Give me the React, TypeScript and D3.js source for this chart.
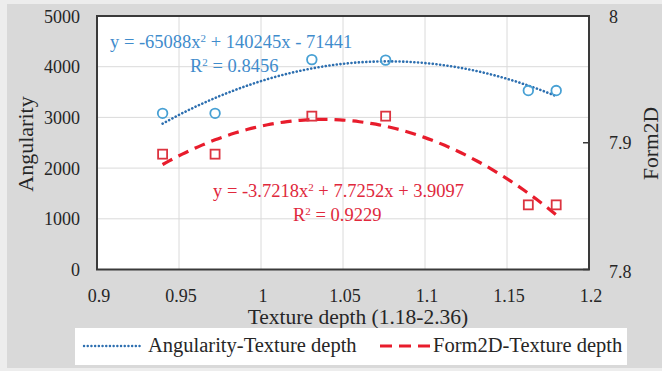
import React from "react";
import * as d3 from "d3";

// Texture depth (normalised) for each sample
const textureDepth = [0.94, 0.972, 1.031, 1.076, 1.163, 1.18];
// Angularity (left axis)
const angularity = [3080, 3080, 4140, 4130, 3530, 3530];
// Form2D (right axis)
const form2D = [7.891, 7.891, 7.921, 7.921, 7.851, 7.851];

// Polynomial trend coefficients [a, b, c] for y = a x^2 + b x + c
const angularityFit = [-65088, 140245, -71441];
const form2DFit = [-3.7218, 7.7252, 3.9097];

const xTicks = [0.9, 0.95, 1, 1.05, 1.1, 1.15, 1.2];
const leftTicks = [0, 1000, 2000, 3000, 4000, 5000];
const rightTicks = [7.8, 7.9, 8];

const W = 662;
const H = 371;
const plot = { left: 97, right: 589, top: 16, bottom: 269.5 };

const FONT = "'Liberation Serif', 'Times New Roman', serif";
const BLUE_TEXT = "#3f8ccc";
const BLUE_MARK = "#47a0d4";
const BLUE_LINE = "#2d6fb0";
const RED_TEXT = "#e0283c";
const RED_LINE = "#e81c2c";
const RED_MARK = "#dc3440";

export default function App() {
  const x = d3.scaleLinear().domain([0.9, 1.2]).range([plot.left, plot.right]);
  const yL = d3.scaleLinear().domain([0, 5000]).range([plot.bottom, plot.top]);
  const yR = d3.scaleLinear().domain([7.8, 8]).range([plot.bottom, plot.top]);

  const xMin = d3.min(textureDepth) as number;
  const xMax = d3.max(textureDepth) as number;
  const samples = d3.range(0, 61).map((i) => xMin + ((xMax - xMin) * i) / 60);
  const poly = (c: number[], v: number) => c[0] * v * v + c[1] * v + c[2];

  const lineL = d3
    .line<number>()
    .x((v) => x(v))
    .y((v) => yL(poly(angularityFit, v)))
    .curve(d3.curveMonotoneX);
  const lineR = d3
    .line<number>()
    .x((v) => x(v))
    .y((v) => yR(poly(form2DFit, v)))
    .curve(d3.curveMonotoneX);

  const sq = 9;

  return (
    <svg
      width={W}
      height={H}
      style={{ position: "absolute", left: 0, top: 0 }}
      fontFamily={FONT}
    >
      <rect x={0} y={0} width={W} height={H} fill="#ededed" />
      <rect x={7} y={4} width={W - 7} height={364} fill="#d9d9d9" />

      {/* plot area */}
      <rect
        x={plot.left}
        y={plot.top}
        width={plot.right - plot.left}
        height={plot.bottom - plot.top}
        fill="#ffffff"
      />

      {/* grid */}
      {xTicks.slice(1, -1).map((t) => (
        <line
          key={"gx" + t}
          x1={x(t)}
          x2={x(t)}
          y1={plot.top}
          y2={plot.bottom}
          stroke="#dadada"
          strokeWidth={1}
        />
      ))}
      {leftTicks.slice(1, -1).map((t) => (
        <line
          key={"gy" + t}
          x1={plot.left}
          x2={plot.right}
          y1={yL(t)}
          y2={yL(t)}
          stroke="#dadada"
          strokeWidth={1}
        />
      ))}

      {/* right axis inner ticks */}
      {rightTicks.map((t) => (
        <line
          key={"rt" + t}
          x1={plot.right - 6}
          x2={plot.right}
          y1={yR(t)}
          y2={yR(t)}
          stroke="#3a3a3a"
          strokeWidth={1.5}
        />
      ))}

      {/* trend lines */}
      <path
        d={lineL(samples) || ""}
        fill="none"
        stroke={BLUE_LINE}
        strokeWidth={2.6}
        strokeDasharray="0.1 3.6"
        strokeLinecap="round"
      />
      <path
        d={lineR(samples) || ""}
        fill="none"
        stroke={RED_LINE}
        strokeWidth={3.2}
        strokeDasharray="11 7"
      />

      {/* markers */}
      {textureDepth.map((v, i) => (
        <circle
          key={"c" + i}
          cx={x(v)}
          cy={yL(angularity[i])}
          r={4.8}
          fill="none"
          stroke={BLUE_MARK}
          strokeWidth={1.8}
        />
      ))}
      {textureDepth.map((v, i) => (
        <rect
          key={"s" + i}
          x={x(v) - sq / 2}
          y={yR(form2D[i]) - sq / 2}
          width={sq}
          height={sq}
          fill="none"
          stroke={RED_MARK}
          strokeWidth={1.8}
        />
      ))}

      {/* plot border */}
      <rect
        x={plot.left}
        y={plot.top}
        width={plot.right - plot.left}
        height={plot.bottom - plot.top}
        fill="none"
        stroke="#3a3a3a"
        strokeWidth={2}
      />

      {/* trend equations */}
      <text x={110} y={48} fontSize={18.5} fill={BLUE_TEXT}>
        y = -65088x<tspan dy={-6} fontSize={11}>2</tspan>
        <tspan dy={6}> + 140245x - 71441</tspan>
      </text>
      <text x={190} y={72} fontSize={18.5} fill={BLUE_TEXT}>
        R<tspan dy={-6} fontSize={11}>2</tspan>
        <tspan dy={6}> = 0.8456</tspan>
      </text>
      <text x={213} y={197} fontSize={18.5} fill={RED_TEXT}>
        y = -3.7218x<tspan dy={-6} fontSize={11}>2</tspan>
        <tspan dy={6}> + 7.7252x + 3.9097</tspan>
      </text>
      <text x={293} y={221} fontSize={18.5} fill={RED_TEXT}>
        R<tspan dy={-6} fontSize={11}>2</tspan>
        <tspan dy={6}> = 0.9229</tspan>
      </text>

      {/* x axis labels */}
      {xTicks.map((t) => (
        <text
          key={"xl" + t}
          x={x(t) + 2}
          y={302}
          fontSize={18}
          textAnchor="middle"
          fill="#262626"
        >
          {d3.format("~g")(t)}
        </text>
      ))}
      {/* left axis labels */}
      {leftTicks.map((t) => (
        <text
          key={"yl" + t}
          x={80}
          y={yL(t) + 6.5}
          fontSize={18}
          textAnchor="end"
          fill="#262626"
        >
          {t}
        </text>
      ))}
      {/* right axis labels */}
      {rightTicks.map((t) => (
        <text
          key={"yr" + t}
          x={609}
          y={yR(t) + 6.5 + (t === 7.8 ? 2 : 0)}
          fontSize={18}
          textAnchor="start"
          fill="#262626"
        >
          {d3.format("~g")(t)}
        </text>
      ))}

      {/* axis titles */}
      <text x={358} y={324} fontSize={21.5} textAnchor="middle" fill="#262626">
        Texture depth (1.18-2.36)
      </text>
      <text
        transform="translate(33,144) rotate(-90)"
        fontSize={22}
        textAnchor="middle"
        fill="#262626"
      >
        Angularity
      </text>
      <text
        transform="translate(658,143.5) rotate(-90)"
        fontSize={21.5}
        textAnchor="middle"
        fill="#262626"
      >
        Form2D
      </text>

      {/* legend */}
      <rect x={75} y={328} width={552} height={37} fill="#ffffff" />
      <line
        x1={84}
        x2={140}
        y1={346}
        y2={346}
        stroke={BLUE_LINE}
        strokeWidth={2.4}
        strokeDasharray="0.1 3.6"
        strokeLinecap="round"
      />
      <text x={148} y={352} fontSize={20.5} fill="#262626">
        Angularity-Texture depth
      </text>
      <line
        x1={380}
        x2={430}
        y1={346}
        y2={346}
        stroke={RED_LINE}
        strokeWidth={3.2}
        strokeDasharray="12 7"
      />
      <text x={433} y={352} fontSize={20.5} fill="#262626">
        Form2D-Texture depth
      </text>
    </svg>
  );
}
